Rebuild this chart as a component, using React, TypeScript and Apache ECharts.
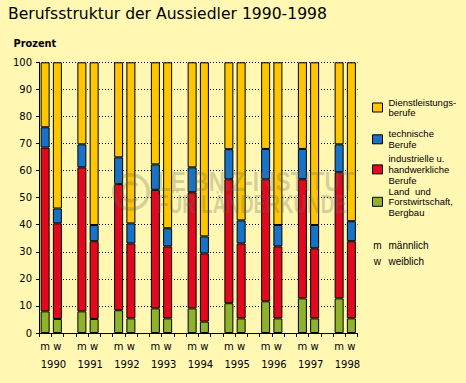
import React, { useEffect, useRef } from "react";
import * as echarts from "echarts";

const years = ["1990", "1991", "1992", "1993", "1994", "1995", "1996", "1997", "1998"];
const groups = ["m", "w"];
const seriesNames = [
  "Land und Forstwirtschaft, Bergbau",
  "industrielle u. handwerkliche Berufe",
  "technische Berufe",
  "Dienstleistungsberufe",
];
const yTicks = [0, 100, 10];

// männlich (segment values, %)
const maleAgri = [8.0, 8.0, 8.4, 9.1, 9.1, 11.0, 11.7, 12.8, 12.8];
const maleInd = [60.5, 53.2, 46.6, 43.8, 42.9, 45.8, 45.1, 44.0, 46.6];
const maleTech = [7.5, 8.5, 9.9, 9.4, 9.2, 11.1, 11.2, 11.2, 10.3];
const maleServ = [24.0, 30.3, 35.1, 37.7, 38.8, 32.1, 32.0, 32.0, 30.3];
// weiblich (segment values, %)
const femaleAgri = [5.2, 5.2, 5.4, 5.4, 4.2, 5.4, 5.4, 5.4, 5.4];
const femaleInd = [35.3, 28.7, 27.7, 26.6, 25.2, 27.7, 26.6, 25.9, 28.5];
const femaleTech = [5.5, 6.0, 7.4, 6.7, 6.3, 8.5, 7.9, 8.6, 7.4];
const femaleServ = [54.0, 60.1, 59.5, 61.3, 64.3, 58.4, 60.1, 60.1, 58.7];

const colors = ["#8eb229", "#e2091e", "#1673c8", "#ffc600"];
const bg = "#fff7b2";
const axisFont = "DejaVu Sans";
const legendFont = "Liberation Sans";

export default function App() {
  const ref = useRef<HTMLDivElement>(null);
  useEffect(() => {
    if (!ref.current) return;
    const chart = echarts.init(ref.current, null, { renderer: "svg" });

    const cats: string[] = [];
    years.forEach((y, i) => {
      groups.forEach((g) => cats.push(y + "-" + g));
      if (i < years.length - 1) cats.push(y + "-gap");
    });

    const maleSets = [maleAgri, maleInd, maleTech, maleServ];
    const femaleSets = [femaleAgri, femaleInd, femaleTech, femaleServ];

    const series = seriesNames.map((name, k) => {
      const data: (number | null)[] = [];
      years.forEach((_, i) => {
        data.push(maleSets[k][i]);
        data.push(femaleSets[k][i]);
        if (i < years.length - 1) data.push(null);
      });
      return {
        name,
        type: "bar",
        stack: "total",
        barWidth: 9,
        data,
        itemStyle: { color: colors[k], borderColor: "#000", borderWidth: 1 },
        emphasis: { disabled: true },
      };
    });

    const legendItems = [
      { k: 3, text: "Dienstleistungs-\nberufe", cy: 107.5 },
      { k: 2, text: "technische\nBerufe", cy: 139.3 },
      { k: 1, text: "industrielle u.\nhandwerkliche\nBerufe", cy: 169.4 },
      { k: 0, text: "Land  und\nForstwirtschaft,\nBergbau", cy: 201.8 },
    ];

    const graphic: any[] = [];
    legendItems.forEach((it) => {
      graphic.push({
        type: "rect",
        shape: { x: 372.5, y: it.cy - 4.5, width: 10, height: 9 },
        style: { fill: colors[it.k], stroke: "#000", lineWidth: 1 },
      });
      graphic.push({
        type: "text",
        x: 388.5,
        y: it.cy,
        style: {
          text: it.text,
          fontSize: 9.5,
          fontFamily: legendFont,
          fill: "#000",
          align: "left",
          verticalAlign: "middle",
          lineHeight: 10.7,
        },
      });
    });
    [
      { s: "m", t: "männlich", y: 245.5 },
      { s: "w", t: "weiblich", y: 261 },
    ].forEach((r) => {
      graphic.push({
        type: "text",
        x: 377.3,
        y: r.y,
        style: { text: r.s, fontSize: 10, fontFamily: legendFont, fill: "#000", align: "center", verticalAlign: "middle" },
      });
      graphic.push({
        type: "text",
        x: 388.5,
        y: r.y,
        style: { text: r.t, fontSize: 10, fontFamily: legendFont, fill: "#000", align: "left", verticalAlign: "middle" },
      });
    });
    graphic.push({
      type: "text",
      x: 8,
      y: 14,
      style: { text: "Berufsstruktur der Aussiedler 1990-1998", fontSize: 15.6, fontFamily: axisFont, fill: "#000", align: "left", verticalAlign: "middle" },
    });
    graphic.push({
      type: "text",
      x: 13.5,
      y: 43.5,
      style: { text: "Prozent", fontSize: 9.8, fontWeight: "bold", fontFamily: axisFont, fill: "#000", align: "left", verticalAlign: "middle" },
    });
    // watermark
    const wm = "rgba(105,105,95,0.28)";
    graphic.push({
      type: "ring",
      z: 100,
      shape: { cx: 131, cy: 192, r: 19, r0: 15.5 },
      style: { fill: wm },
    });
    graphic.push({
      type: "arc",
      z: 100,
      shape: { cx: 131, cy: 192, r: 9, startAngle: 0.8, endAngle: -0.8, clockwise: true },
      style: { stroke: wm, lineWidth: 3.5, fill: "none" },
    });
    graphic.push({
      type: "text",
      z: 100,
      x: 157,
      y: 181,
      scaleX: 0.81,
      style: { text: "LEIBNIZ-INSTITUT", fontSize: 28, fontWeight: "bold", fontFamily: legendFont, fill: wm, align: "left", verticalAlign: "middle" },
    });
    graphic.push({
      type: "text",
      z: 100,
      x: 157,
      y: 205,
      scaleX: 0.756,
      style: { text: "FÜR LÄNDERKUNDE", fontSize: 25, fontWeight: "bold", fontFamily: legendFont, fill: wm, align: "left", verticalAlign: "middle" },
    });

    const option: any = {
      animation: false,
      backgroundColor: bg,
      grid: { left: 39, right: 108.5, top: 62.3, bottom: 50, containLabel: false },
      xAxis: [
        {
          type: "category",
          data: cats,
          boundaryGap: true,
          axisLine: { lineStyle: { color: "#000", width: 1 } },
          axisTick: { show: true, interval: 0, length: 4, lineStyle: { color: "#000" } },
          axisLabel: {
            interval: 0,
            margin: 8.5,
            fontSize: 10,
            fontFamily: axisFont,
            color: "#000",
            formatter: (v: string) => {
              const p = v.split("-")[1];
              return p === "gap" ? "" : p;
            },
          },
          splitLine: { show: false },
        },
        {
          type: "category",
          data: cats,
          position: "bottom",
          offset: 17,
          axisLine: { show: false },
          axisTick: { show: false },
          axisLabel: {
            interval: 0,
            margin: 9,
            fontSize: 10,
            fontFamily: axisFont,
            color: "#000",
            padding: [0, 8, 0, 0],
            formatter: (v: string) => {
              const [y, p] = v.split("-");
              return p === "w" ? y : "";
            },
          },
        },
      ],
      yAxis: {
        type: "value",
        min: yTicks[0],
        max: yTicks[1],
        interval: yTicks[2],
        axisLine: { show: true, lineStyle: { color: "#000", width: 1 } },
        axisTick: { show: true, length: 3, lineStyle: { color: "#000" } },
        axisLabel: { margin: 7, fontSize: 10, fontFamily: axisFont, color: "#000" },
        splitLine: { show: true, lineStyle: { color: "#000", type: [1, 2], width: 1 } },
      },
      series,
      graphic,
    };
    chart.setOption(option);
    return () => chart.dispose();
  }, []);
  return <div ref={ref} style={{ position: "fixed", left: 0, top: 0, width: 466, height: 383 }} />;
}
